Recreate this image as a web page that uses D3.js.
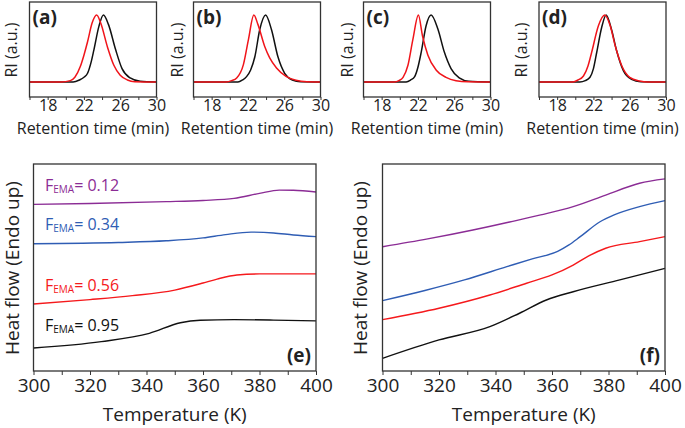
<!DOCTYPE html>
<html>
<head>
<meta charset="utf-8">
<script src="https://cdn.jsdelivr.net/npm/d3@7"></script>
<style>
body { margin: 0; background: #fff; }
text { font-family: "Open Sans", sans-serif; fill: #222; }
</style>
</head>
<body>
<svg id="fig" width="685" height="428"></svg>
<script>
// GPC traces: [retention time (min), normalised RI]
const gpcRedA = [[16,0],[19.5,0],[20.5,0.02],[21,0.07],[21.6,0.23],[22,0.4],[22.4,0.6],[22.9,0.88],[23.4,1.0],[23.85,0.88],[24.6,0.52],[25.3,0.25],[26,0.1],[26.8,0.03],[27.6,0.005],[30,0]];
const gpcBlackA = [[16,0],[20.8,0],[21.5,0.03],[22,0.07],[22.4,0.13],[22.8,0.3],[23.1,0.48],[23.65,0.83],[24.15,1.0],[24.7,0.86],[25.5,0.48],[26.2,0.2],[27.1,0.06],[28.2,0.01],[30,0]];
const gpcRedB = [[16,0],[19.6,0],[20.2,0.02],[20.76,0.06],[21.5,0.26],[22.05,0.63],[22.65,1.0],[23.1,0.86],[23.85,0.53],[24.4,0.36],[25.15,0.21],[26.2,0.085],[27.3,0.025],[28.5,0.003],[30,0]];
const gpcBlackB = [[16,0],[20.9,0],[21.4,0.03],[21.85,0.08],[22.3,0.18],[22.77,0.38],[23.3,0.78],[23.95,1.0],[24.6,0.78],[25.3,0.38],[26.05,0.13],[26.9,0.03],[27.8,0.003],[30,0]];
const gpcRedC = [[16,0],[19.4,0],[19.9,0.02],[20.36,0.07],[20.9,0.25],[21.45,0.64],[22.05,1.0],[22.5,0.69],[23.1,0.4],[24,0.18],[25.1,0.07],[26.2,0.02],[27.5,0.003],[30,0]];
const gpcBlackC = [[16,0],[20.7,0],[21.2,0.03],[21.64,0.08],[22,0.22],[22.37,0.45],[22.9,0.84],[23.45,1.0],[24.2,0.79],[24.9,0.45],[25.65,0.2],[26.55,0.06],[27.6,0.01],[30,0]];
const gpcRedD = [[16,0],[19.7,0],[20.3,0.03],[20.9,0.09],[21.4,0.24],[21.8,0.44],[22.55,0.84],[23.25,1.0],[23.85,0.84],[24.4,0.54],[25.1,0.25],[26,0.07],[27.1,0.015],[28,0],[30,0]];
const gpcBlackD = [[16,0],[20.5,0],[21.1,0.02],[21.62,0.07],[22,0.2],[22.36,0.44],[22.9,0.81],[23.4,1.0],[24,0.78],[24.55,0.47],[25.3,0.17],[26.2,0.04],[27.2,0.005],[30,0]];
const gpcPanels = ['(a)', '(b)', '(c)', '(d)'];
const gpcTicks = [16, 18, 20, 22, 24, 26, 28, 30];
const gpcLabelTicks = [18, 22, 26, 30];

// DSC traces: [temperature (K), heat flow (a.u.)]
const dscPurpleE = [[300,8.05],[320,8.09],[347,8.18],[360,8.24],[371,8.34],[380,8.58],[387,8.74],[392,8.73],[400,8.65]];
const dscBlueE = [[300,6.15],[330,6.21],[347,6.29],[360,6.43],[368,6.59],[377,6.71],[385,6.67],[392,6.57],[400,6.49]];
const dscRedE = [[300,3.24],[320,3.45],[335,3.64],[350,3.91],[360,4.25],[365,4.44],[372,4.64],[380,4.69],[390,4.69],[400,4.69]];
const dscBlackE = [[300,1.11],[324,1.42],[341,1.82],[352,2.33],[359,2.45],[371,2.48],[385,2.46],[400,2.42]];
const dscPurpleF = [[300,6.00],[316,6.38],[332,6.81],[345,7.20],[356,7.54],[367.5,7.94],[379,8.50],[391,9.07],[400,9.28]];
const dscBlueF = [[300,3.40],[315,3.89],[329,4.40],[344,5.04],[353,5.42],[362,5.78],[366,6.09],[370,6.49],[377,7.21],[382,7.54],[391,7.94],[400,8.23]];
const dscRedF = [[300,2.48],[320,3.03],[338,3.67],[351,4.24],[360,4.64],[367.5,5.12],[373,5.56],[379,5.93],[391,6.25],[400,6.49]];
const dscBlackF = [[300,0.61],[320,1.50],[338,2.14],[348.5,2.79],[358,3.43],[367.5,3.83],[384,4.40],[400,4.96]];
const fEma = ['0.12', '0.34', '0.56', '0.95'];
const dscTicks = [300, 310, 320, 330, 340, 350, 360, 370, 380, 390, 400];
const dscLabelTicks = [300, 320, 340, 360, 380, 400];

const svg = d3.select('#fig');
const seriesColors = ['#8b2c95', '#2f5db4', '#f5191c', '#111'];

// ---- top row: GPC ----
const gpcLeft = [29.5, 193.5, 363.5, 539];
const gpcWidth = 127;
const gpcTop = 2, gpcBottom = 97;
const gpcY = d3.scaleLinear().domain([-0.224, 1.194]).range([gpcBottom, gpcTop]);
const gpcData = [[gpcRedA, gpcBlackA], [gpcRedB, gpcBlackB], [gpcRedC, gpcBlackC], [gpcRedD, gpcBlackD]];
const gpcTitleX = [17, 183, 353, 527];

gpcData.forEach((pair, i) => {
    const x = d3.scaleLinear().domain([16, 30]).range([gpcLeft[i], gpcLeft[i] + gpcWidth]);
    const g = svg.append('g');
    const line = d3.line().x(d => x(d[0])).y(d => gpcY(d[1])).curve(d3.curveMonotoneX);

    g.append('path').datum(pair[1]).attr('d', line)
        .attr('fill', 'none').attr('stroke', '#111').attr('stroke-width', 1.5);
    g.append('path').datum(pair[0]).attr('d', line)
        .attr('fill', 'none').attr('stroke', '#f0141a').attr('stroke-width', 1.5);

    const ax = g.append('g').attr('transform', `translate(0, ${gpcBottom})`)
        .call(d3.axisBottom(x).tickValues(gpcTicks).tickSize(3).tickPadding(0)
            .tickFormat(d => gpcLabelTicks.includes(d) ? d : ''));
    ax.select('.domain').remove();
    ax.selectAll('line').attr('stroke', '#333');
    ax.selectAll('text').attr('font-size', 16).attr('font-family', '"Open Sans", sans-serif').attr('fill', '#222');

    g.append('rect').attr('x', gpcLeft[i]).attr('y', gpcTop)
        .attr('width', gpcWidth).attr('height', gpcBottom - gpcTop)
        .attr('fill', 'none').attr('stroke', '#333').attr('stroke-width', 1.3);

    g.append('text').attr('x', gpcLeft[i] + 3).attr('y', 24)
        .attr('font-size', 19).attr('font-weight', 'bold').text(gpcPanels[i]);

    g.append('text').attr('x', gpcLeft[i] + gpcWidth / 2).attr('y', 133.5)
        .attr('text-anchor', 'middle').attr('font-size', 16).text('Retention time (min)');

    g.append('text').attr('transform', `translate(${gpcTitleX[i]}, 50) rotate(-90)`)
        .attr('text-anchor', 'middle').attr('font-size', 16).text('RI (a.u.)');
});

// ---- bottom row: DSC ----
const dscLeft = [33.5, 382.5];
const dscWidth = 282.5;
const dscTop = 164, dscBottom = 371;
const dscY = d3.scaleLinear().domain([0, 10]).range([dscBottom, dscTop]);
const dscData = [[dscPurpleE, dscBlueE, dscRedE, dscBlackE], [dscPurpleF, dscBlueF, dscRedF, dscBlackF]];
const dscPanels = ['(e)', '(f)'];
const dscTitleX = [18.5, 367];
const fLabelY = [190.5, 230, 291, 331];

dscData.forEach((set, i) => {
    const x = d3.scaleLinear().domain([300, 400]).range([dscLeft[i], dscLeft[i] + dscWidth]);
    const g = svg.append('g');
    const line = d3.line().x(d => x(d[0])).y(d => dscY(d[1])).curve(d3.curveMonotoneX);

    set.forEach((s, j) => {
        g.append('path').datum(s).attr('d', line)
            .attr('fill', 'none').attr('stroke', seriesColors[j]).attr('stroke-width', 1.4);
    });

    const ax = g.append('g').attr('transform', `translate(0, ${dscBottom})`)
        .call(d3.axisBottom(x).tickValues(dscTicks).tickSize(4).tickPadding(4)
            .tickFormat(d => dscLabelTicks.includes(d) ? d : ''));
    ax.select('.domain').remove();
    ax.selectAll('line').attr('stroke', '#333');
    ax.selectAll('text').attr('font-size', 19).attr('font-family', '"Open Sans", sans-serif').attr('fill', '#222');

    g.append('rect').attr('x', dscLeft[i]).attr('y', dscTop)
        .attr('width', dscWidth).attr('height', dscBottom - dscTop)
        .attr('fill', 'none').attr('stroke', '#333').attr('stroke-width', 1.3);

    g.append('text').attr('x', dscLeft[i] + dscWidth - 5).attr('y', 362)
        .attr('text-anchor', 'end').attr('font-size', 19).attr('font-weight', 'bold').text(dscPanels[i]);

    g.append('text').attr('x', dscLeft[i] + dscWidth / 2).attr('y', 421)
        .attr('text-anchor', 'middle').attr('font-size', 19).text('Temperature (K)');

    g.append('text').attr('transform', `translate(${dscTitleX[i]}, 268) rotate(-90)`)
        .attr('text-anchor', 'middle').attr('font-size', 19).text('Heat flow (Endo up)');
});

// composition labels in (e)
fEma.forEach((v, j) => {
    const t = svg.append('text').attr('x', 45).attr('y', fLabelY[j]).attr('font-size', 16);
    t.append('tspan').attr('fill', seriesColors[j]).text('F');
    t.append('tspan').attr('fill', seriesColors[j]).attr('font-size', 10).attr('dy', 2).text('EMA');
    t.append('tspan').attr('fill', seriesColors[j]).attr('dy', -2).text('= ' + v);
});
</script>
</body>
</html>
